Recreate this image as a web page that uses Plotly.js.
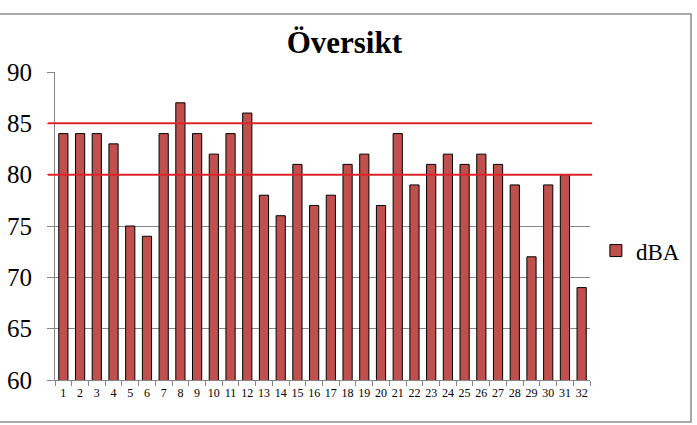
<!DOCTYPE html>
<html>
<head>
<meta charset="utf-8">
<script src="https://cdn.plot.ly/plotly-3.0.1.min.js"></script>
<style>
html,body{margin:0;padding:0;background:#fff;}
#chart{width:697px;height:425px;}
</style>
</head>
<body>
<div id="chart"></div>
<script>
const categories = ["1","2","3","4","5","6","7","8","9","10","11","12","13","14","15","16","17","18","19","20","21","22","23","24","25","26","27","28","29","30","31","32"];
const dBA = [84,84,84,83,75,74,84,87,84,82,84,86,78,76,81,77,78,81,82,77,84,79,81,82,81,82,81,79,72,79,80,69];
const limitLines = [80, 85];
const yTicks = [60,65,70,75,80,85,90];

const FONT = 'Liberation Serif, Times New Roman, serif';

const shapes = limitLines.map(v => ({
  type: 'line', xref: 'paper', yref: 'y',
  x0: -0.013, x1: 1.004, y0: v, y1: v,
  line: {color: '#dc2428', width: 2}, layer: 'above'
}));
shapes.push({
  type: 'rect', xref: 'paper', yref: 'paper',
  x0: -0.2, x1: 1.1888, y0: -0.136, y1: 1.188,
  line: {color: '#8c8c8c', width: 1.5}, fillcolor: 'rgba(0,0,0,0)', layer: 'below'
});

const data = [{
  type: 'bar', x: categories, y: dBA, name: 'dBA',
  marker: {color: '#c0504d', line: {color: '#000000', width: 1}},
  showlegend: true
}];

const layout = {
  width: 697, height: 425,
  margin: {l: 55, r: 107, t: 72, b: 45, pad: 0},
  paper_bgcolor: '#ffffff', plot_bgcolor: '#ffffff',
  font: {family: FONT, color: '#000000'},
  title: {text: '<b>Översikt</b>', font: {family: FONT, size: 31, color: '#000'},
          x: 0.494, xref: 'container', xanchor: 'center',
          y: 1 - 42/425, yref: 'container', yanchor: 'middle'},
  bargap: 0.45,
  xaxis: {
    type: 'category', tickson: 'boundaries', ticks: 'outside', ticklen: 5,
    tickcolor: '#868686', showline: true, linecolor: '#868686', linewidth: 1,
    tickfont: {family: FONT, size: 12, color: '#000'}, showgrid: false,
    tickangle: 0, fixedrange: true, ticklabelstandoff: 2
  },
  yaxis: {
    range: [60, 90], tickvals: yTicks, ticktext: yTicks.map(String),
    ticks: 'outside', ticklen: 7, tickcolor: '#868686',
    showline: true, linecolor: '#868686', linewidth: 1,
    showgrid: true, gridcolor: '#868686', gridwidth: 1,
    zeroline: false, ticklabelstandoff: 10,
    tickfont: {family: FONT, size: 25, color: '#000'}
  },
  legend: {x: 1.011, xanchor: 'left', y: 0.42, yanchor: 'middle',
           font: {family: FONT, size: 23, color: '#000'}, bgcolor: 'rgba(0,0,0,0)'},
  shapes: shapes
};

Plotly.newPlot('chart', data, layout, {displayModeBar: false, staticPlot: true});
</script>
</body>
</html>
